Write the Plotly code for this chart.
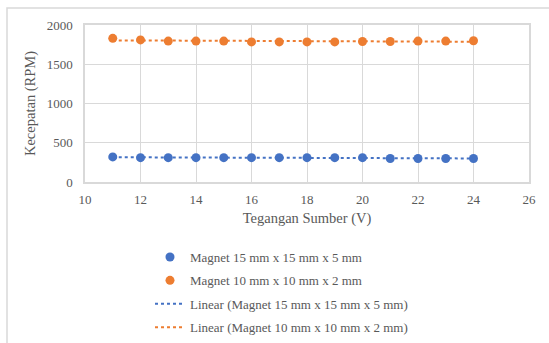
import numpy as np
import plotly.graph_objects as go

voltage = [11, 12, 13, 14, 15, 16, 17, 18, 19, 20, 21, 22, 23, 24]
rpm_15 = [320, 310, 310, 310, 310, 310, 310, 310, 310, 310, 300, 300, 300, 300]
rpm_10 = [1830, 1810, 1795, 1795, 1795, 1785, 1785, 1785, 1785, 1790, 1790, 1795, 1795, 1800]

name_15 = "Magnet 15 mm x 15 mm x 5 mm"
name_10 = "Magnet 10 mm x 10 mm x 2 mm"

BLUE = "#4472C4"
ORANGE = "#ED7D31"
TXT = "#595959"
GRID = "#D9D9D9"
FONT = "Liberation Serif, Times New Roman, serif"

def trend(x, y):
    m, b = np.polyfit(x, y, 1)
    xa = np.array(x, dtype=float)
    return list(xa), list(m * xa + b)

fig = go.Figure()
tx, ty = trend(voltage, rpm_15)
fig.add_trace(go.Scatter(x=tx, y=ty, mode="lines", line=dict(color=BLUE, width=2, dash="dot"),
                         name="Linear (" + name_15 + ")", legendgroup="c", legendrank=3))
tx, ty = trend(voltage, rpm_10)
fig.add_trace(go.Scatter(x=tx, y=ty, mode="lines", line=dict(color=ORANGE, width=2, dash="dot"),
                         name="Linear (" + name_10 + ")", legendgroup="d", legendrank=4))
fig.add_trace(go.Scatter(x=voltage, y=rpm_15, mode="markers", marker=dict(color=BLUE, size=9),
                         name=name_15, legendgroup="a", legendrank=1))
fig.add_trace(go.Scatter(x=voltage, y=rpm_10, mode="markers", marker=dict(color=ORANGE, size=9),
                         name=name_10, legendgroup="b", legendrank=2))

L, R, T, B = 85, 20, 25, 161
W, H = 549, 343
pw, ph = W - L - R, H - T - B

def px(xp):
    return (xp - L) / pw

def py(yp):
    return (H - B - yp) / ph

fig.update_layout(
    width=W, height=H,
    margin=dict(l=L, r=R, t=T, b=B, autoexpand=False),
    paper_bgcolor="white", plot_bgcolor="white",
    font=dict(family=FONT, size=13, color=TXT),
    showlegend=True,
    legend=dict(x=px(150), y=py(242), xanchor="left", yanchor="top",
                font=dict(family=FONT, size=13, color=TXT),
                tracegroupgap=3.5, bgcolor="rgba(0,0,0,0)"),
    xaxis=dict(range=[10, 26], dtick=2, tick0=10, showgrid=True, gridcolor=GRID, gridwidth=1,
               zeroline=False, showline=True, linecolor=GRID, linewidth=1.5, mirror=True,
               ticks="outside", ticklen=5, tickcolor="rgba(0,0,0,0)",
               tickfont=dict(family=FONT, size=13, color=TXT),
               title=dict(text="Tegangan Sumber (V)", font=dict(family=FONT, size=14.5, color=TXT), standoff=7)),
    yaxis=dict(range=[0, 2000], dtick=500, showgrid=True, gridcolor=GRID, gridwidth=1,
               zeroline=False, showline=True, linecolor=GRID, linewidth=1.5, mirror=True,
               ticks="outside", ticklen=8, tickcolor="rgba(0,0,0,0)",
               tickfont=dict(family=FONT, size=13, color=TXT),
               title=dict(text="Kecepatan (RPM)", font=dict(family=FONT, size=14.5, color=TXT), standoff=8)),
    shapes=[dict(type="rect", xref="paper", yref="paper",
                 x0=px(7), x1=px(560), y0=py(360), y1=py(8),
                 line=dict(color=GRID, width=1.5), fillcolor="rgba(0,0,0,0)", layer="below")],
)

fig.write_html("out.html")
